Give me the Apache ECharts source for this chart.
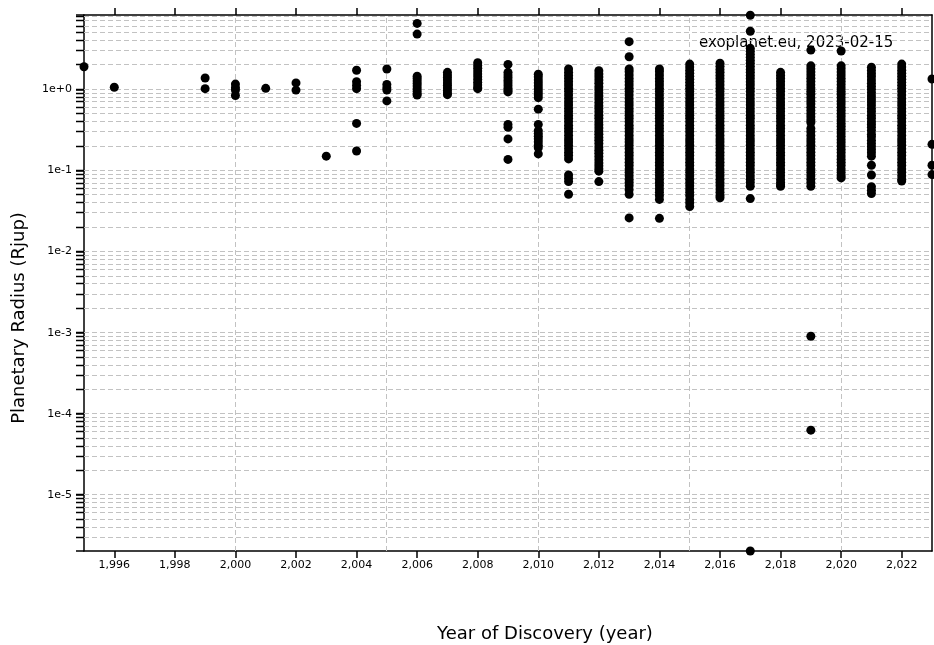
<!DOCTYPE html>
<html>
<head>
<meta charset="utf-8">
<script src="https://cdn.jsdelivr.net/npm/echarts@6/dist/echarts.min.js"></script>
<style>
html,body{margin:0;padding:0;background:#fff;}
#chart{width:934px;height:645px;}
</style>
</head>
<body>
<div id="chart"></div>
<script>
// ---- axis ranges & tick values ----
const X_MIN = 1995, X_MAX = 2023;
const Y_MIN = 2.04e-6, Y_MAX = 8.25;
const xTickYears = [1996, 1998, 2000, 2002, 2004, 2006, 2008, 2010, 2012, 2014, 2016, 2018, 2020, 2022];
const xGridYears = [2000, 2005, 2010, 2015, 2020];
const gridMantissas = [1, 2, 3, 4, 5, 6, 7, 8, 9];
const gridExponents = [-6, -5, -4, -3, -2, -1, 0];

// ---- planetary radii (Rjup) per discovery year ----
const r1995 = [1.9];
const r1996 = [1.06];
const r1999 = [1.38, 1.02];
const r2000 = [1.16, 1.05, 0.98, 0.84];
const r2001 = [1.03];
const r2002 = [1.2, 0.98];
const r2003 = [0.15];
const r2004 = [1.72, 1.24, 1.12, 1.02, 0.38, 0.174];
const r2005 = [1.78, 1.15, 1.05, 0.98, 0.72];
const r2006 = [6.5, 4.8, 1.45, 1.36, 1.27, 1.18, 1.1, 1.02, 0.95, 0.88, 0.85];
const r2007 = [1.62, 1.5, 1.4, 1.3, 1.2, 1.12, 1.04, 0.97, 0.9, 0.86];
const r2008 = [2.13, 1.97, 1.82, 1.68, 1.55, 1.43, 1.32, 1.22, 1.13, 1.05, 1.02];
const r2009 = [2.03, 1.62, 1.5, 1.39, 1.29, 1.2, 1.11, 1.03, 0.96, 0.93, 0.37, 0.34, 0.245, 0.137];
const r2010 = [1.54, 1.42, 1.3, 1.2, 1.1, 1.01, 0.93, 0.86, 0.79, 0.57, 0.37, 0.31, 0.285, 0.265, 0.245, 0.225, 0.205, 0.19, 0.16];
const r2011 = [1.78, 1.62, 1.48, 1.36, 1.24, 1.13, 1.03, 0.94, 0.85, 0.77, 0.7, 0.64, 0.58, 0.53, 0.48, 0.44, 0.4, 0.36, 0.33, 0.3, 0.27, 0.245, 0.225, 0.205, 0.185, 0.168, 0.153, 0.139, 0.088, 0.08, 0.073, 0.051];
const r2012 = [1.7, 1.55, 1.42, 1.3, 1.19, 1.08, 0.99, 0.9, 0.83, 0.76, 0.69, 0.63, 0.58, 0.53, 0.48, 0.44, 0.4, 0.365, 0.335, 0.305, 0.28, 0.255, 0.235, 0.215, 0.195, 0.178, 0.163, 0.149, 0.136, 0.124, 0.114, 0.105, 0.098, 0.073];
const r2013 = [3.87, 2.52, 1.78, 1.65, 1.5, 1.36, 1.24, 1.13, 1.03, 0.94, 0.85, 0.77, 0.7, 0.64, 0.58, 0.53, 0.48, 0.44, 0.4, 0.36, 0.33, 0.3, 0.27, 0.245, 0.225, 0.205, 0.185, 0.168, 0.153, 0.139, 0.126, 0.115, 0.104, 0.095, 0.086, 0.078, 0.071, 0.065, 0.058, 0.051, 0.026];
const r2014 = [1.78, 1.65, 1.5, 1.36, 1.24, 1.13, 1.03, 0.94, 0.85, 0.77, 0.7, 0.64, 0.58, 0.53, 0.48, 0.44, 0.4, 0.36, 0.33, 0.3, 0.27, 0.245, 0.225, 0.205, 0.185, 0.168, 0.153, 0.139, 0.126, 0.115, 0.104, 0.095, 0.086, 0.078, 0.071, 0.065, 0.059, 0.054, 0.049, 0.044, 0.0257];
const r2015 = [2.05, 1.88, 1.72, 1.58, 1.45, 1.33, 1.22, 1.12, 1.03, 0.94, 0.85, 0.77, 0.7, 0.64, 0.58, 0.53, 0.48, 0.44, 0.4, 0.36, 0.33, 0.3, 0.27, 0.245, 0.225, 0.205, 0.185, 0.168, 0.153, 0.139, 0.126, 0.115, 0.104, 0.095, 0.086, 0.078, 0.071, 0.065, 0.059, 0.054, 0.049, 0.044, 0.04, 0.036];
const r2016 = [2.1, 1.92, 1.76, 1.62, 1.48, 1.36, 1.24, 1.13, 1.03, 0.94, 0.85, 0.77, 0.7, 0.64, 0.58, 0.53, 0.48, 0.44, 0.4, 0.36, 0.33, 0.3, 0.27, 0.245, 0.225, 0.205, 0.185, 0.168, 0.153, 0.139, 0.126, 0.115, 0.104, 0.095, 0.086, 0.078, 0.071, 0.065, 0.059, 0.054, 0.049, 0.046];
const r2017 = [8.2, 5.2, 3.2, 2.95, 2.7, 2.48, 2.28, 2.1, 1.92, 1.76, 1.62, 1.48, 1.36, 1.24, 1.13, 1.03, 0.94, 0.85, 0.77, 0.7, 0.64, 0.58, 0.53, 0.48, 0.44, 0.4, 0.36, 0.33, 0.3, 0.27, 0.245, 0.225, 0.205, 0.185, 0.168, 0.153, 0.139, 0.126, 0.115, 0.104, 0.095, 0.086, 0.078, 0.071, 0.064, 0.045, 0.00000204];
const r2018 = [1.62, 1.48, 1.36, 1.24, 1.13, 1.03, 0.94, 0.85, 0.77, 0.7, 0.64, 0.58, 0.53, 0.48, 0.44, 0.4, 0.36, 0.33, 0.3, 0.27, 0.245, 0.225, 0.205, 0.185, 0.168, 0.153, 0.139, 0.126, 0.115, 0.104, 0.095, 0.086, 0.078, 0.071, 0.066, 0.064];
const r2019 = [3.05, 1.95, 1.79, 1.64, 1.5, 1.37, 1.25, 1.14, 1.04, 0.95, 0.87, 0.79, 0.72, 0.66, 0.6, 0.55, 0.5, 0.46, 0.42, 0.39, 0.33, 0.3, 0.27, 0.245, 0.225, 0.205, 0.185, 0.168, 0.153, 0.139, 0.126, 0.115, 0.104, 0.095, 0.086, 0.078, 0.071, 0.064, 0.000906, 0.000063];
const r2020 = [2.97, 1.95, 1.79, 1.64, 1.5, 1.37, 1.25, 1.14, 1.04, 0.95, 0.87, 0.79, 0.72, 0.66, 0.6, 0.55, 0.5, 0.46, 0.42, 0.38, 0.35, 0.32, 0.29, 0.265, 0.24, 0.22, 0.2, 0.182, 0.166, 0.151, 0.138, 0.126, 0.115, 0.104, 0.095, 0.086, 0.081];
const r2021 = [1.87, 1.71, 1.56, 1.43, 1.3, 1.19, 1.09, 1.0, 0.91, 0.83, 0.76, 0.7, 0.64, 0.58, 0.53, 0.48, 0.44, 0.4, 0.37, 0.34, 0.31, 0.28, 0.26, 0.235, 0.215, 0.197, 0.18, 0.165, 0.15, 0.116, 0.088, 0.063, 0.057, 0.052];
const r2022 = [2.05, 1.88, 1.72, 1.58, 1.45, 1.33, 1.22, 1.12, 1.03, 0.94, 0.85, 0.77, 0.7, 0.64, 0.58, 0.53, 0.48, 0.44, 0.4, 0.36, 0.33, 0.3, 0.27, 0.245, 0.225, 0.205, 0.185, 0.168, 0.153, 0.139, 0.126, 0.115, 0.104, 0.095, 0.086, 0.078, 0.074];
const r2023 = [1.34, 0.21, 0.116, 0.089];

const yearColumns = [
  [1995, r1995], [1996, r1996], [1999, r1999], [2000, r2000], [2001, r2001], [2002, r2002],
  [2003, r2003], [2004, r2004], [2005, r2005], [2006, r2006], [2007, r2007], [2008, r2008],
  [2009, r2009], [2010, r2010], [2011, r2011], [2012, r2012], [2013, r2013], [2014, r2014],
  [2015, r2015], [2016, r2016], [2017, r2017], [2018, r2018], [2019, r2019], [2020, r2020],
  [2021, r2021], [2022, r2022], [2023, r2023]
];

const pointData = [];
yearColumns.forEach(([yr, arr]) => arr.forEach(r => pointData.push([yr, r])));

const hGridValues = [];
gridExponents.forEach(e => gridMantissas.forEach(m => {
  const v = m * Math.pow(10, e);
  if (v >= Y_MIN && v <= Y_MAX) hGridValues.push([X_MIN, v]);
}));
const vGridData = xGridYears.map(y => [y, Y_MIN]);

const FONT = 'DejaVu Sans';
const chart = echarts.init(document.getElementById('chart'), null, {renderer: 'canvas'});

function crisp(v) { return Math.round(v - 0.5) + 0.5; }
function withComma(v) { return String(v).replace(/\B(?=(\d{3})+(?!\d))/g, ','); }

chart.setOption({
  animation: false,
  backgroundColor: '#fff',
  grid: {left: 84, right: 2, top: 15, bottom: 94, containLabel: false},
  xAxis: [
    {
      type: 'value', min: X_MIN, max: X_MAX, position: 'bottom',
      axisLine: {onZero: false, lineStyle: {color: '#000', width: 1.5}},
      axisTick: {show: true, customValues: xTickYears, length: 7, lineStyle: {color: '#000', width: 1.5}},
      axisLabel: {show: true, customValues: xTickYears, formatter: withComma, margin: 9,
                  color: '#000', fontSize: 11, fontFamily: FONT},
      splitLine: {show: false}
    },
    {
      type: 'value', min: X_MIN, max: X_MAX, position: 'top',
      axisLine: {onZero: false, lineStyle: {color: '#000', width: 1.5}},
      axisTick: {show: true, customValues: xTickYears, length: 7, lineStyle: {color: '#000', width: 1.5}},
      axisLabel: {show: false},
      splitLine: {show: false}
    }
  ],
  yAxis: [
    {
      type: 'log', logBase: 10, min: Y_MIN, max: Y_MAX, position: 'left',
      axisLine: {show: true, onZero: false, lineStyle: {color: '#000', width: 1.5}},
      axisTick: {show: true, length: 8, lineStyle: {color: '#000', width: 1.5}},
      axisLabel: {
        margin: 12, color: '#000', fontSize: 11, fontFamily: FONT,
        formatter: function (v) {
          const ex = Math.log10(v);
          if (Math.abs(ex - Math.round(ex)) > 1e-6) return '';
          const e = Math.round(ex);
          return '1e' + (e >= 0 ? '+' : '') + e;
        }
      },
      splitLine: {show: false}, minorTick: {show: false}
    },
    {
      type: 'log', logBase: 10, min: Y_MIN, max: Y_MAX, position: 'right',
      axisLine: {show: true, onZero: false, lineStyle: {color: '#000', width: 1.5}},
      axisTick: {show: false}, axisLabel: {show: false}, splitLine: {show: false}
    }
  ],
  graphic: [
    {type: 'text', x: 699, y: 43, z: 1,
     style: {text: 'exoplanet.eu, 2023-02-15', fontSize: 15, fontFamily: FONT, fill: '#000',
             align: 'left', verticalAlign: 'middle'}},
    {type: 'text', x: 19, y: 318, rotation: Math.PI / 2, z: 1,
     style: {text: 'Planetary Radius (Rjup)', fontSize: 18, fontFamily: FONT, fill: '#000',
             align: 'center', verticalAlign: 'middle'}},
    {type: 'text', x: 545, y: 634, z: 1,
     style: {text: 'Year of Discovery (year)', fontSize: 18, fontFamily: FONT, fill: '#000',
             align: 'center', verticalAlign: 'middle'}}
  ],
  series: [
    {
      type: 'custom', name: 'hgrid', xAxisIndex: 0, yAxisIndex: 0, z: 1, clip: false, silent: true,
      data: hGridValues,
      renderItem: function (params, api) {
        const v = api.value(1);
        const a = api.coord([X_MIN, v]);
        const b = api.coord([X_MAX, v]);
        const y = crisp(a[1]);
        return {type: 'group', children: [
          {type: 'line', shape: {x1: a[0], y1: y, x2: b[0], y2: y},
           style: {stroke: '#c2c2c2', lineWidth: 1, lineDash: [5, 3]}},
          {type: 'line', shape: {x1: a[0] - 8, y1: y, x2: a[0], y2: y},
           style: {stroke: '#000', lineWidth: 1.5}}
        ]};
      }
    },
    {
      type: 'custom', name: 'vgrid', xAxisIndex: 0, yAxisIndex: 0, z: 1, clip: false, silent: true,
      data: vGridData,
      renderItem: function (params, api) {
        const yr = api.value(0);
        const a = api.coord([yr, Y_MIN]);
        const b = api.coord([yr, Y_MAX]);
        const x = crisp(a[0]);
        return {type: 'line', shape: {x1: x, y1: a[1], x2: x, y2: b[1]},
                style: {stroke: '#c2c2c2', lineWidth: 1, lineDash: [5, 3]}};
      }
    },
    {
      type: 'scatter', name: 'planets', xAxisIndex: 0, yAxisIndex: 0, z: 3,
      symbol: 'circle', symbolSize: 9, clip: true,
      itemStyle: {color: '#000', opacity: 1},
      data: pointData
    }
  ]
});
</script>
</body>
</html>
